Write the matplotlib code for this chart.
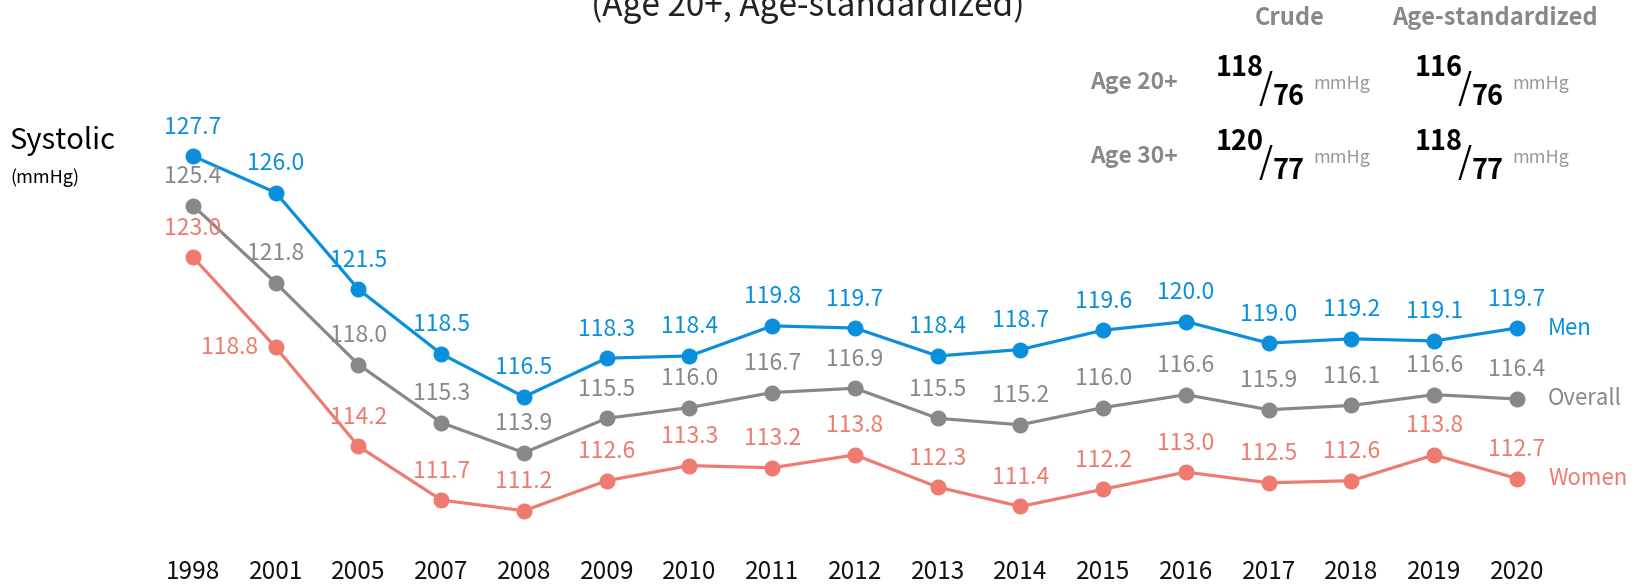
import matplotlib.pyplot as plt

plt.rcParams["font.family"] = ["Noto Sans CJK KR", "DejaVu Sans"]

# data
years = ["1998", "2001", "2005", "2007", "2008", "2009", "2010", "2011", "2012",
         "2013", "2014", "2015", "2016", "2017", "2018", "2019", "2020"]
men = [127.7, 126.0, 121.5, 118.5, 116.5, 118.3, 118.4, 119.8, 119.7,
       118.4, 118.7, 119.6, 120.0, 119.0, 119.2, 119.1, 119.7]
overall = [125.4, 121.8, 118.0, 115.3, 113.9, 115.5, 116.0, 116.7, 116.9,
           115.5, 115.2, 116.0, 116.6, 115.9, 116.1, 116.6, 116.4]
women = [123.0, 118.8, 114.2, 111.7, 111.2, 112.6, 113.3, 113.2, 113.8,
         112.3, 111.4, 112.2, 113.0, 112.5, 112.6, 113.8, 112.7]

series_names = ["Men", "Overall", "Women"]
colors = ["#0a8fdc", "#888888", "#ee7a70"]

# summary table (top right)
col_heads = ["Crude", "Age-standardized"]
row_heads = ["Age 20+", "Age 30+"]
systolic = [["118", "116"], ["120", "118"]]
diastolic = [["76", "76"], ["77", "77"]]

W, H = 1646, 586
fig = plt.figure(figsize=(W / 100, H / 100), dpi=100)
ax = fig.add_axes([0, 0, 1, 1])
ax.axis("off")
ax.set_xlim(-2.332, 17.559)
ax.set_ylim(107.7, 134.96)


def fx(x):
    return x / W


def fy(y):
    return 1 - y / H


x = list(range(len(years)))
for name, vals, c in zip(series_names, [men, overall, women], colors):
    ax.plot(x, vals, color=c, lw=2.3, marker="o", ms=10.5, zorder=3)
    for i, v in enumerate(vals):
        if name == "Women" and i == 1:
            ax.annotate(f"{v:.1f}", (i, v), xytext=(-18, 0), textcoords="offset pixels",
                        ha="right", va="center", color=c, fontsize=16.5, fontweight="light")
        else:
            ax.annotate(f"{v:.1f}", (i, v), xytext=(0, 29), textcoords="offset pixels",
                        ha="center", va="center", color=c, fontsize=16.5, fontweight="light")
    ax.annotate(name, (x[-1], vals[-1]), xytext=(31, 0), textcoords="offset pixels",
                ha="left", va="center", color=c, fontsize=16, fontweight="light")

for i, yr in enumerate(years):
    ax.text(i, fy(572), yr, transform=ax.get_xaxis_transform(),
            ha="center", va="center", fontsize=17.5, color="#111111")

fig.text(fx(10), fy(141), "Systolic", ha="left", va="center", fontsize=21, color="black")
fig.text(fx(10), fy(178), "(mmHg)", ha="left", va="center", fontsize=13, color="black")

fig.text(fx(808), fy(16), "(Age 20+, Age-standardized)", ha="center", va="baseline",
         fontsize=24, color="#222222")

# table
head_x = [1290, 1495]
for hx, h in zip(head_x, col_heads):
    fig.text(fx(hx), fy(18), h, ha="center", va="center", fontsize=17,
             fontweight="bold", color="#888888")

row_y = [68, 142]
num_x = [1216, 1415]
for r, rh in enumerate(row_heads):
    y0 = row_y[r]
    fig.text(fx(1178), fy(y0 + 14), rh, ha="right", va="center", fontsize=16.5,
             fontweight="bold", color="#888888")
    for cidx in range(2):
        x0 = num_x[cidx]
        fig.text(fx(x0), fy(y0), systolic[r][cidx], ha="left", va="center",
                 fontsize=19.5, fontweight="bold", color="black")
        fig.text(fx(x0 + 50), fy(y0 + 21), "/", ha="center", va="center",
                 fontsize=26, color="black")
        fig.text(fx(x0 + 57), fy(y0 + 29), diastolic[r][cidx], ha="left", va="center",
                 fontsize=19.5, fontweight="bold", color="black")
        fig.text(fx(x0 + 97), fy(y0 + 16), "mmHg", ha="left", va="center",
                 fontsize=13, fontweight="light", color="#999999")

fig.savefig("out.png", dpi=100)
